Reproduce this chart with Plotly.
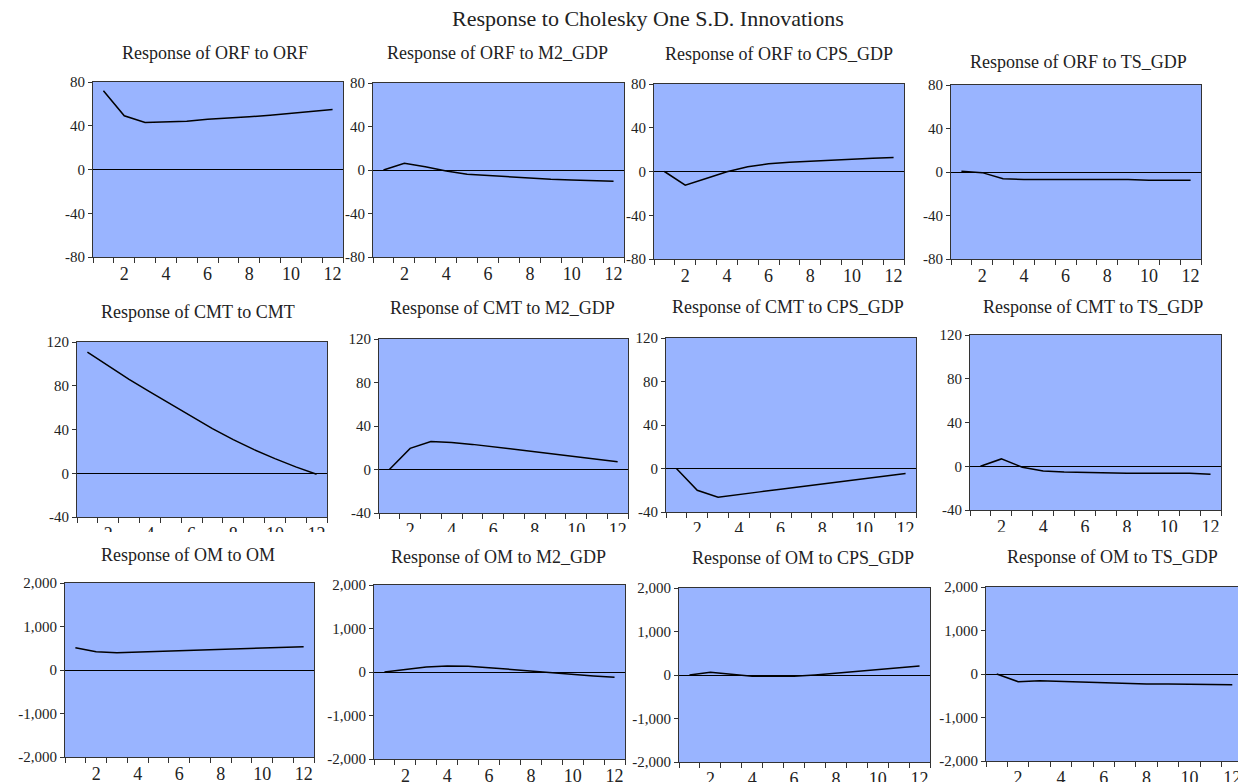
import plotly.graph_objects as go

periods = list(range(1, 13))

# Responses
orf_orf = [72.0, 49.1, 43.0, 43.3, 44.2, 46.0, 47.0, 48.2, 49.7, 51.5, 53.0, 54.9]
orf_m2 = [0.0, 6.1, 3.0, -1.0, -3.8, -5.0, -6.0, -7.5, -8.6, -9.2, -10.0, -10.4]
orf_cps = [0.0, -12.5, -6.4, -0.2, 4.3, 7.0, 8.5, 9.5, 10.7, 11.6, 12.2, 12.8]
orf_ts = [0.6, -0.6, -6.1, -7.0, -7.0, -7.0, -7.0, -7.0, -7.0, -7.7, -7.7, -7.7]

cmt_cmt = [110.8, 98.1, 85.9, 74.4, 63.1, 51.8, 40.8, 30.8, 21.6, 13.4, 5.8, -0.9]
cmt_m2 = [0.0, 19.4, 25.8, 24.9, 23.1, 20.9, 18.8, 16.3, 14.2, 12.0, 9.5, 7.1]
cmt_cps = [0.0, -20.0, -26.5, -24.3, -21.5, -19.0, -16.6, -13.8, -11.4, -9.2, -7.1, -4.6]
cmt_ts = [0.0, 6.7, -0.9, -4.3, -5.2, -5.8, -5.8, -6.4, -6.4, -6.4, -6.4, -7.3]

om_om = [513, 421, 398, 414, 437, 452, 467, 483, 490, 506, 521, 536]
om_m2 = [0, 61, 115, 138, 130, 100, 61, 15, -31, -61, -92, -123]
om_cps = [0, 61, 15, -31, -31, -31, 0, 38, 84, 130, 169, 207]
om_ts = [0, -176, -153, -168, -191, -199, -206, -229, -229, -229, -245, -245]

titles = [
    "Response of ORF to ORF", "Response of ORF to M2_GDP",
    "Response of ORF to CPS_GDP", "Response of ORF to TS_GDP",
    "Response of CMT to CMT", "Response of CMT to M2_GDP",
    "Response of CMT to CPS_GDP", "Response of CMT to TS_GDP",
    "Response of OM to OM", "Response of OM to M2_GDP",
    "Response of OM to CPS_GDP", "Response of OM to TS_GDP",
]
series = [orf_orf, orf_m2, orf_cps, orf_ts,
          cmt_cmt, cmt_m2, cmt_cps, cmt_ts,
          om_om, om_m2, om_cps, om_ts]

row1_ticks = [-80, -40, 0, 40, 80]
row1_text = ["-80", "-40", "0", "40", "80"]
row2_ticks = [-40, 0, 40, 80, 120]
row2_text = ["-40", "0", "40", "80", "120"]
row3_ticks = [-2000, -1000, 0, 1000, 2000]
row3_text = ["-2,000", "-1,000", "0", "1,000", "2,000"]
x_label_vals = [2, 4, 6, 8, 10, 12]
x_label_text = ["2", "4", "6", "8", "10", "12"]
x_minor_vals = [0.5 + i for i in range(13)]

W, H = 1246, 782
OFF = 8  # page body margin in which the figure sits

def fx(px):
    return (px - OFF) / W

def fy(py):
    return 1 - (py - OFF) / H

boxes = [
    (93, 343, 82, 257), (373, 624, 83, 257), (654, 904, 84, 259), (951, 1201, 85, 259),
    (77, 327, 342, 517), (379, 628, 339, 513), (666, 916, 338, 512), (970, 1221, 335, 510),
    (65, 314, 583, 757), (374, 625, 585, 759), (679, 930, 588, 762), (986, 1243, 587, 761),
]
title_pos = [
    (215, 53), (497, 53), (779, 54), (1078, 62),
    (198, 312), (502, 308), (788, 307), (1093, 307),
    (188, 555), (498, 557), (803, 558), (1112, 557),
]

FONT = "Liberation Serif"
BG = "#99B4FF"
TXT = "#222222"

fig = go.Figure()
layout = dict(
    width=W, height=H, autosize=False,
    margin=dict(l=0, r=0, t=0, b=0, pad=0, autoexpand=False),
    paper_bgcolor="white", showlegend=False,
    font=dict(family=FONT, color=TXT, size=15),
)
annotations = [dict(text="Response to Cholesky One S.D. Innovations",
                    x=fx(648), y=fy(19), xref="paper", yref="paper",
                    showarrow=False, font=dict(size=22, family=FONT, color=TXT),
                    xanchor="center", yanchor="middle")]

for i, (ys, (l, r, t, b)) in enumerate(zip(series, boxes)):
    n = i + 1
    xa = "xaxis" if n == 1 else f"xaxis{n}"
    ya = "yaxis" if n == 1 else f"yaxis{n}"
    xr = "x" if n == 1 else f"x{n}"
    yr = "y" if n == 1 else f"y{n}"
    row = i // 4
    if row == 0:
        yt, ytt, yrange = row1_ticks, row1_text, [-80, 80]
    elif row == 1:
        yt, ytt, yrange = row2_ticks, row2_text, [-40, 120]
    else:
        yt, ytt, yrange = row3_ticks, row3_text, [-2000, 2000]

    fig.add_trace(go.Scatter(x=periods, y=ys, mode="lines",
                             line=dict(color="black", width=1.5),
                             xaxis=xr, yaxis=yr, hoverinfo="skip"))
    layout[xa] = dict(
        domain=[fx(l), fx(r)], range=[0.5, 12.5], anchor=yr,
        tickmode="array", tickvals=x_label_vals, ticktext=x_label_text,
        ticks="", showgrid=False, zeroline=False, automargin=False,
        showline=True, mirror=True, linecolor="#333", linewidth=1,
        tickfont=dict(size=18, family=FONT, color=TXT),
        minor=dict(tickmode="array", tickvals=x_minor_vals, ticks="outside",
                   ticklen=5, tickcolor="#333", tickwidth=1, showgrid=False),
        fixedrange=True,
    )
    layout[ya] = dict(
        domain=[fy(b), fy(t)], range=yrange, anchor=xr,
        tickmode="array", tickvals=yt, ticktext=ytt, automargin=False,
        ticks="outside", ticklen=4, tickcolor="#333", tickwidth=1,
        showgrid=False, zeroline=True, zerolinecolor="black", zerolinewidth=1,
        showline=True, mirror=True, linecolor="#333", linewidth=1,
        tickfont=dict(size=15, family=FONT, color=TXT),
        fixedrange=True,
    )
    tx, ty = title_pos[i]
    annotations.append(dict(text=titles[i], x=fx(tx), y=fy(ty),
                            xref="paper", yref="paper", showarrow=False,
                            xanchor="center", yanchor="middle",
                            font=dict(size=18, family=FONT, color=TXT)))

layout["annotations"] = annotations
layout["plot_bgcolor"] = BG
fig.update_layout(**layout)

# the source image cuts the middle row's period labels partway
fig.add_shape(type="rect", xref="paper", yref="paper",
              x0=0, x1=1, y0=fy(544), y1=fy(532),
              fillcolor="white", line=dict(width=0), layer="above")

fig.write_html("out.html")
